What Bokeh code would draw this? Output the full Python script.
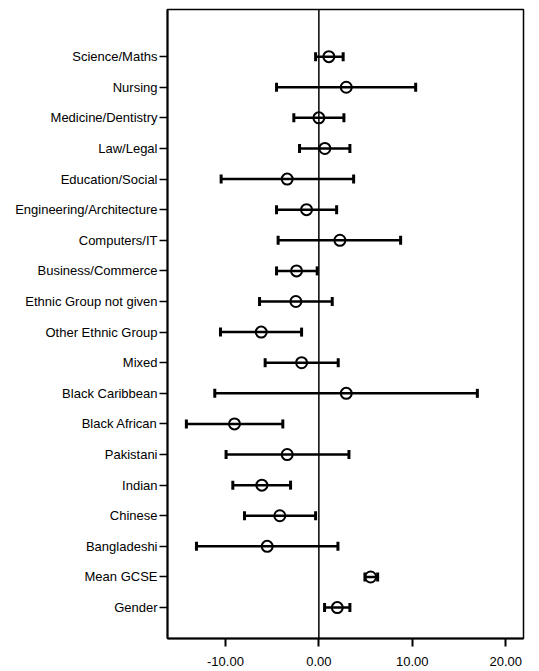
import math
from bokeh.plotting import figure
from bokeh.models import ColumnDataSource, FixedTicker, Range1d, Span
from bokeh.embed import file_html
from bokeh.resources import INLINE

# Predictors, listed top to bottom
labels = [
    "Science/Maths", "Nursing", "Medicine/Dentistry", "Law/Legal",
    "Education/Social", "Engineering/Architecture", "Computers/IT",
    "Business/Commerce", "Ethnic Group not given", "Other Ethnic Group",
    "Mixed", "Black Caribbean", "Black African", "Pakistani", "Indian",
    "Chinese", "Bangladeshi", "Mean GCSE", "Gender",
]
# Point estimates and 95% confidence limits
estimate = [1.07, 2.93, 0.00, 0.64, -3.39, -1.32, 2.25, -2.39, -2.46, -6.17,
            -1.85, 2.93, -9.03, -3.39, -6.10, -4.18, -5.53, 5.54, 1.97]
lower = [-0.35, -4.53, -2.68, -2.07, -10.46, -4.53, -4.36, -4.53, -6.35, -10.53,
         -5.75, -11.14, -14.18, -9.93, -9.21, -7.96, -13.10, 4.93, 0.61]
upper = [2.60, 10.36, 2.68, 3.32, 3.72, 1.90, 8.75, -0.18, 1.43, -1.85,
         2.07, 16.96, -3.86, 3.22, -3.03, -0.35, 2.04, 6.29, 3.32]
x_ticks = [-10, 0, 10, 20]

n = len(labels)
ypos = [n - 1 - i for i in range(n)]
src = ColumnDataSource(dict(y=ypos, est=estimate, lo=lower, hi=upper))

FONT = "Liberation Sans"

p = figure(
    width=539, height=671,
    x_range=Range1d(-16.2, 21.9), y_range=Range1d(-1.01, 19.54),
    output_backend="svg", toolbar_location=None,
    min_border_left=167, min_border_right=16, min_border_top=9, min_border_bottom=33,
)
p.background_fill_color = "white"
p.border_fill_color = "white"
p.xgrid.visible = False
p.ygrid.visible = False
p.outline_line_color = "black"
p.outline_line_width = 1.5
p.outline_line_alpha = 1.0

# reference line at zero
p.add_layout(Span(location=0, dimension="height", line_color="black", line_width=1.5))

# confidence interval bars with end caps
p.segment(x0="lo", y0="y", x1="hi", y1="y", source=src, line_color="black", line_width=2.5)
p.scatter(x="lo", y="y", source=src, marker="dash", angle=math.pi / 2, size=9,
          line_color="black", line_width=3)
p.scatter(x="hi", y="y", source=src, marker="dash", angle=math.pi / 2, size=9,
          line_color="black", line_width=3)
# point estimates
p.scatter(x="est", y="y", source=src, marker="circle", size=11,
          fill_color=None, line_color="black", line_width=2)

# x axis
p.xaxis.ticker = FixedTicker(ticks=x_ticks)
p.xaxis.major_label_overrides = {t: f"{t:.2f}" for t in x_ticks}
p.xaxis.minor_tick_line_color = None
p.xaxis.major_tick_in = 0
p.xaxis.major_tick_out = 8
p.xaxis.major_tick_line_width = 2
p.xaxis.axis_line_width = 2
p.xaxis.major_label_standoff = 10
p.xaxis.major_label_text_font = FONT
p.xaxis.major_label_text_font_size = "13px"
p.xaxis.major_label_text_color = "black"

# y axis with predictor names
p.yaxis.ticker = FixedTicker(ticks=ypos)
p.yaxis.major_label_overrides = {y: lab for y, lab in zip(ypos, labels)}
p.yaxis.minor_tick_line_color = None
p.yaxis.major_tick_in = 0
p.yaxis.major_tick_out = 8
p.yaxis.major_tick_line_width = 1.5
p.yaxis.axis_line_width = 2
p.yaxis.major_label_standoff = 2
p.yaxis.major_label_text_font = FONT
p.yaxis.major_label_text_font_size = "13px"
p.yaxis.major_label_text_color = "black"

open("out.html", "w").write(file_html(p, INLINE))
